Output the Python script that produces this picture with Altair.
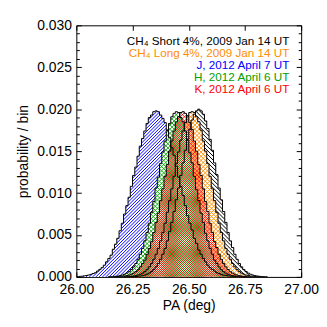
import math
import altair as alt
import numpy as np
import pandas as pd

# ---------------- data ----------------
bin_width = 0.01
x_ticks = [26.00, 26.25, 26.50, 26.75, 27.00]
y_ticks = [0.000, 0.005, 0.010, 0.015, 0.020, 0.025, 0.030]
y_minor = [round(i * 0.001, 3) for i in range(31) if i % 5 != 0]

labels = [
    "CH\u2084 Short 4%, 2009 Jan 14 UT",
    "CH\u2084 Long 4%, 2009 Jan 14 UT",
    "J, 2012 April 7 UT",
    "H, 2012 April 6 UT",
    "K, 2012 April 6 UT",
]
colors = ["#000000", "#FF8C00", "#0000FF", "#00A000", "#FF0000"]
hatch = ["\\", "x", "/", "x", "x"]

# left edge (PA, deg) of the first bin of each histogram
starts = [26.24, 26.21, 26.00, 26.14, 26.17]

ch4_short = [0.00002, 0.00003, 0.00004, 0.00007, 0.0001, 0.00015, 0.00022, 0.00033, 0.00046,
             0.00064, 0.00088, 0.0012, 0.0016, 0.0021, 0.0027, 0.0034, 0.0043, 0.0054, 0.0065,
             0.0078, 0.0092, 0.0106, 0.0121, 0.0136, 0.0151, 0.0164, 0.0176, 0.0187, 0.0194,
             0.0198, 0.0200, 0.0198, 0.0194, 0.0186, 0.0177, 0.0164, 0.0151, 0.0136, 0.0122,
             0.0106, 0.0092, 0.0078, 0.0065, 0.0053, 0.0043, 0.0035, 0.0027, 0.0021, 0.0016,
             0.0012, 0.00088, 0.00064, 0.00045, 0.00032, 0.00022, 0.00015, 0.0001, 0.00007,
             0.00004, 0.00003, 0.00002]
ch4_long = [0.00002, 0.00003, 0.00004, 0.00007, 0.0001, 0.00015, 0.00022, 0.00032, 0.00045,
            0.00063, 0.00087, 0.0012, 0.0016, 0.0021, 0.0027, 0.0034, 0.0043, 0.0053, 0.0064,
            0.0077, 0.0091, 0.0105, 0.0120, 0.0135, 0.0149, 0.0163, 0.0174, 0.0184, 0.0192,
            0.0196, 0.0197, 0.0196, 0.0191, 0.0185, 0.0175, 0.0162, 0.0150, 0.0135, 0.0120,
            0.0105, 0.0091, 0.0077, 0.0064, 0.0053, 0.0043, 0.0034, 0.0027, 0.0021, 0.0016,
            0.0012, 0.00087, 0.00063, 0.00045, 0.00032, 0.00022, 0.00015, 0.0001, 0.00007,
            0.00004, 0.00003, 0.00002]
j_band = [0.00004, 0.00006, 0.00008, 0.00012, 0.00017, 0.00022, 0.0003, 0.0004, 0.0005, 0.0007,
          0.0009, 0.0011, 0.0014, 0.0018, 0.0022, 0.0026, 0.0033, 0.0039, 0.0046, 0.0055, 0.0064,
          0.0075, 0.0085, 0.0095, 0.0108, 0.0121, 0.0131, 0.0144, 0.0156, 0.0165, 0.0174, 0.0183,
          0.0190, 0.0193, 0.0197, 0.0198, 0.0197, 0.0193, 0.0189, 0.0184, 0.0175, 0.0166, 0.0154,
          0.0145, 0.0132, 0.0119, 0.0108, 0.0097, 0.0085, 0.0073, 0.0064, 0.0056, 0.0046, 0.0040,
          0.0032, 0.0027, 0.0022, 0.0018, 0.0014, 0.0011, 0.0009, 0.0007, 0.0005, 0.0004, 0.0003,
          0.00021, 0.00016, 0.00012, 0.00009, 0.00006, 0.00004]
h_band = [0.00002, 0.00003, 0.00005, 0.00007, 0.0001, 0.00015, 0.00022, 0.00033, 0.00045, 0.00062,
          0.00088, 0.0012, 0.0016, 0.0021, 0.0027, 0.0034, 0.0043, 0.0053, 0.0064, 0.0077, 0.0090,
          0.0106, 0.0119, 0.0135, 0.0149, 0.0162, 0.0175, 0.0183, 0.0191, 0.0195, 0.0197, 0.0196,
          0.0190, 0.0185, 0.0174, 0.0163, 0.0148, 0.0136, 0.0120, 0.0104, 0.0091, 0.0076, 0.0065,
          0.0052, 0.0043, 0.0034, 0.0027, 0.0020, 0.0016, 0.0012, 0.00086, 0.00063, 0.00045,
          0.00031, 0.00022, 0.00015, 0.0001, 0.00007, 0.00004, 0.00003, 0.00002]
k_band = [0.00002, 0.00003, 0.00004, 0.00007, 0.0001, 0.00016, 0.00022, 0.00032, 0.00046, 0.00063,
          0.00086, 0.0012, 0.0016, 0.0020, 0.0027, 0.0034, 0.0042, 0.0053, 0.0065, 0.0076, 0.0091,
          0.0105, 0.0120, 0.0134, 0.0150, 0.0162, 0.0174, 0.0185, 0.0191, 0.0196, 0.0197, 0.0195,
          0.0192, 0.0184, 0.0176, 0.0162, 0.0150, 0.0134, 0.0121, 0.0105, 0.0090, 0.0078, 0.0064,
          0.0053, 0.0042, 0.0035, 0.0027, 0.0021, 0.0016, 0.0012, 0.00088, 0.00062, 0.00046,
          0.00032, 0.00023, 0.00015, 0.0001, 0.00007, 0.00004, 0.00003, 0.00002]

series_values = [ch4_short, ch4_long, j_band, h_band, k_band]

# ---------------- layout / style ----------------
W, H = 227, 254
FONT = "Liberation Sans"
X0, X1, Y0, Y1 = 26.0, 27.0, 0.0, 0.03
xscale = alt.Scale(domain=[X0, X1], nice=False, zero=False)
yscale = alt.Scale(domain=[Y0, Y1], nice=False)
K45 = (W / (X1 - X0)) / (H / (Y1 - Y0))   # data slope of a 45-degree line on screen

# draw order (bottom -> top); white backing, pattern phase, spacing (px), line width
draw_order = [2, 0, 1, 3, 4]
opaque = {0: True, 1: True, 2: True, 3: True, 4: False}
phase = {0: 0.0, 1: 0.0, 2: 0.0, 3: 0.0, 4: 0.5}
period = {0: 4.0, 1: 4.2, 2: 3.3, 3: 4.2, 4: 4.2}
lw = {0: 1.0, 1: 0.9, 2: 1.0, 3: 0.9, 4: 0.9}


def hist_frame(start, vals):
    rows = [{"pa": round(start + i * bin_width, 3), "p": v} for i, v in enumerate(vals)]
    rows.append({"pa": round(start + len(vals) * bin_width, 3), "p": 0.0})
    return pd.DataFrame(rows)


def hatch_segments(start, vals, direction, ph, per):
    """Clip 45-degree hatch lines to the area under a step histogram (data space)."""
    v = np.asarray(vals, dtype=float)
    n = len(v)
    end = start + n * bin_width
    span = v.max() / K45
    d = per / W * (X1 - X0)
    if direction == "/":
        cmin, cmax = start - span, end
    else:
        cmin, cmax = start, end + span
    m0 = math.floor((cmin - X0) / d - ph) - 1
    m1 = math.ceil((cmax - X0) / d - ph) + 1
    segs = []
    for m in range(m0, m1 + 1):
        c = X0 + (m + ph) * d
        if direction == "/":
            lo, hi = max(c, start), min(c + span, end)
        else:
            lo, hi = max(c - span, start), min(c, end)
        if hi <= lo:
            continue
        npts = int((hi - lo) / 0.0002) + 2
        x = np.linspace(lo, hi, npts)
        y = K45 * (x - c) if direction == "/" else K45 * (c - x)
        idx = np.clip(np.floor((x - start) / bin_width + 1e-9).astype(int), 0, n - 1)
        inside = (y <= v[idx]) & (y >= -1e-12)
        padded = np.concatenate([[0], inside.astype(int), [0]])
        dd = np.diff(padded)
        a_idx = np.where(dd == 1)[0]
        b_idx = np.where(dd == -1)[0] - 1
        for a, b in zip(a_idx, b_idx):
            if b > a:
                segs.append((x[a], max(y[a], 0.0), x[b], max(y[b], 0.0)))
    return pd.DataFrame(segs, columns=["x", "y", "x2", "y2"])


def enc_noaxis():
    return dict(
        x=alt.X("pa:Q", scale=xscale, axis=None),
        y=alt.Y("p:Q", scale=yscale, axis=None),
    )


layers = []
frames = [hist_frame(s, v) for s, v in zip(starts, series_values)]

for si in draw_order:
    df = frames[si]
    if opaque[si]:
        layers.append(
            alt.Chart(df).mark_area(interpolate="step-after", color="white", opacity=1)
            .encode(**enc_noaxis())
        )
    dirs = ["/", "\\"] if hatch[si] == "x" else [hatch[si]]
    for d in dirs:
        seg = hatch_segments(starts[si], series_values[si], d, phase[si], period[si])
        layers.append(
            alt.Chart(seg).mark_rule(color=colors[si], strokeWidth=lw[si]).encode(
                x=alt.X("x:Q", scale=xscale, axis=None),
                y=alt.Y("y:Q", scale=yscale, axis=None),
                x2="x2:Q",
                y2="y2:Q",
            )
        )

# outlines
for si in draw_order:
    layers.append(
        alt.Chart(frames[si]).mark_line(interpolate="step-after", color="black", strokeWidth=1)
        .encode(**enc_noaxis())
    )

# legend text
for i, (lab, col) in enumerate(zip(labels, colors)):
    layers.append(
        alt.Chart(pd.DataFrame({"t": [lab]})).mark_text(
            align="right", baseline="alphabetic", font=FONT, fontSize=11.8, color=col
        ).encode(x=alt.value(215), y=alt.value(20 + 12.2 * i), text="t:N")
    )

tick_df = pd.DataFrame({"pa": [26.0], "p": [0.0]})

# main labelled axes
layers.append(
    alt.Chart(tick_df).mark_point(opacity=0).encode(
        x=alt.X("pa:Q", scale=xscale, title="PA (deg)",
                axis=alt.Axis(orient="bottom", values=x_ticks, format=".2f", ticks=False,
                              tickSize=0, domain=False, grid=False, labelPadding=6,
                              titlePadding=2, labelFlush=False)),
        y=alt.Y("p:Q", scale=yscale, title="probability / bin",
                axis=alt.Axis(orient="left", values=y_ticks, format=".3f", ticks=False,
                              tickSize=0, domain=False, grid=False, labelPadding=5,
                              titlePadding=6, labelFlush=False)),
    )
)


def tick_layer(xorient, yorient, xvals, yvals, size):
    if xvals:
        xa = alt.Axis(orient=xorient, offset=-H, values=xvals, labels=False, domain=False,
                      grid=False, title=None, tickSize=size)
    else:
        xa = None
    ya = alt.Axis(orient=yorient, offset=-W, values=yvals, labels=False, domain=False,
                  grid=False, title=None, tickSize=size)
    return alt.Chart(tick_df).mark_point(opacity=0).encode(
        x=alt.X("pa:Q", scale=xscale, axis=xa),
        y=alt.Y("p:Q", scale=yscale, axis=ya),
    )


layers.append(tick_layer("top", "right", x_ticks, y_ticks, 5))
layers.append(tick_layer("top", "right", None, y_minor, 3))
layers.append(tick_layer("bottom", "left", x_ticks, y_ticks, 5))
layers.append(tick_layer("bottom", "left", None, y_minor, 3))

chart = (
    alt.layer(*layers)
    .resolve_axis(x="independent", y="independent")
    .properties(
        width=W, height=H, autosize="none",
        padding={"left": 69, "top": 16, "right": 18, "bottom": 41},
    )
    .configure_view(stroke="black", strokeWidth=1)
    .configure_axis(
        labelFont=FONT, titleFont=FONT, labelFontSize=14, titleFontSize=14,
        labelColor="black", titleColor="black", titleFontWeight="normal",
        tickColor="black", tickWidth=1,
    )
)

chart.save("out.html", embed_options={"renderer": "svg", "actions": False})
